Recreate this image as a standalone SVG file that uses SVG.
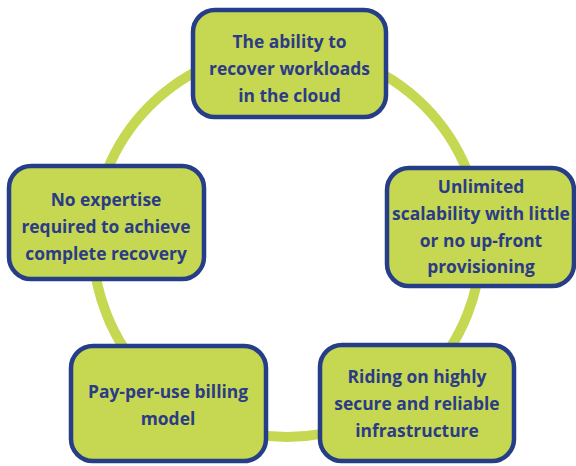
<svg xmlns="http://www.w3.org/2000/svg" width="576" height="466" viewBox="0 0 576 466">
<style>
.box{fill:#c6d751;stroke:#263d88;stroke-width:4.5}
.t{font-family:"Open Sans","DejaVu Sans",sans-serif;font-weight:bold;font-size:17.4px;fill:#2b3b86;text-anchor:middle}
</style>
<rect width="576" height="466" fill="#ffffff"/>
<g id="connectors">
<circle cx="287" cy="243" r="194" fill="none" stroke="#c6d751" stroke-width="10"/>
</g>
<g id="n1">
<rect class="box" x="193" y="10" width="193" height="107" rx="22"/>
<text class="t" x="289.5" y="48">The ability to</text>
<text class="t" x="289.5" y="75">recover workloads</text>
<text class="t" x="289.5" y="102">in the cloud</text>
</g>
<g id="n2">
<rect class="box" x="387" y="168" width="187" height="118" rx="22"/>
<text class="t" x="481" y="193">Unlimited</text>
<text class="t" x="481" y="220">scalability with little</text>
<text class="t" x="481" y="247">or no up-front</text>
<text class="t" x="481" y="273">provisioning</text>
</g>
<g id="n3">
<rect class="box" x="9" y="166" width="195" height="113" rx="22"/>
<text class="t" x="106" y="206">No expertise</text>
<text class="t" x="106" y="233">required to achieve</text>
<text class="t" x="106" y="260">complete recovery</text>
</g>
<g id="n4">
<rect class="box" x="71" y="346" width="195" height="115" rx="22"/>
<text class="t" x="168" y="398">Pay-per-use billing</text>
<text class="t" x="168" y="425">model</text>
</g>
<g id="n5">
<rect class="box" x="320" y="345" width="194" height="116" rx="22"/>
<text class="t" x="417" y="383">Riding on highly</text>
<text class="t" x="417" y="410">secure and reliable</text>
<text class="t" x="417" y="437">infrastructure</text>
</g>
</svg>
